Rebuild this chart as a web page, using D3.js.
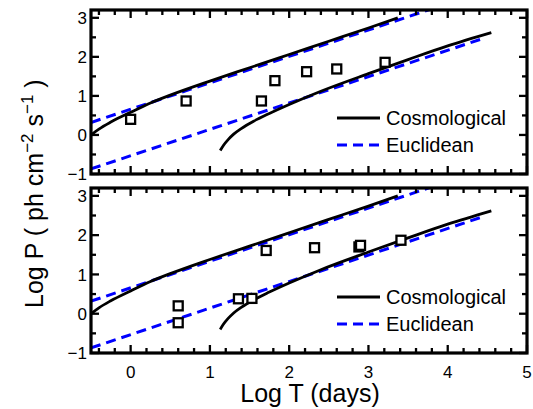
<!DOCTYPE html>
<html lang="en">
<head>
    <meta charset="UTF-8">
    <title>Log P vs Log T</title>
    <script src="https://d3js.org/d3.v7.min.js"></script>
    <style>
        body { margin: 0; background: #fff; overflow: hidden; }
        svg { display: block; }
        text { font-family: "Liberation Sans", Arial, sans-serif; fill: #000; }
        .tick_label { font-size: 17px; }
        .legend_text { font-size: 20px; }
        .axis_label { font-size: 25px; }
    </style>
</head>
<body>
<svg width="533" height="409"></svg>

<script>
    // model curves
    const cosmoUpperT = [-0.5, -0.4, -0.25, 0, 0.25, 0.5, 1, 1.5, 2, 2.5, 3, 3.37];
    const cosmoUpperP = [0, 0.15, 0.33, 0.58, 0.82, 1.02, 1.38, 1.72, 2.06, 2.4, 2.74, 3.0];
    const cosmoLowerT = [1.13, 1.17, 1.23, 1.3, 1.4, 1.55, 1.75, 2.0, 2.4, 3.0, 3.5, 4.0, 4.55];
    const cosmoLowerP = [-0.40, -0.27, -0.12, 0.02, 0.17, 0.35, 0.55, 0.78, 1.12, 1.57, 1.93, 2.28, 2.62];
    const euclidUpperT = [-0.5, 3.8];
    const euclidUpperP = [0.32, 3.23];
    const euclidLowerT = [-0.5, 4.46];
    const euclidLowerP = [-0.87, 2.48];

    // observed points
    const topT = [0, 0.70, 1.65, 1.82, 2.22, 2.6, 3.21];
    const topP = [0.40, 0.87, 0.87, 1.39, 1.62, 1.69, 1.86];
    const bottomT = [0.6, 0.6, 1.36, 1.53, 1.71, 2.32, 2.88, 2.9, 3.41];
    const bottomP = [0.20, -0.23, 0.38, 0.39, 1.61, 1.68, 1.70, 1.74, 1.87];

    const xTicks = [0, 1, 2, 3, 4, 5];
    const xMinorTicks = [-0.4, -0.2, 0.2, 0.4, 0.6, 0.8, 1.2, 1.4, 1.6, 1.8, 2.2, 2.4, 2.6, 2.8,
        3.2, 3.4, 3.6, 3.8, 4.2, 4.4, 4.6, 4.8];
    const yTicks = [-1, 0, 1, 2, 3];
    const yMinorTicks = [-0.5, 0.5, 1.5, 2.5];
    const legendNames = ["Cosmological", "Euclidean"];

    const svg = d3.select("svg");
    const left = 91, right = 527;

    const x = d3.scaleLinear().domain([-0.5, 5]).range([left, right]);

    const zip = (a, b) => a.map((v, i) => [v, b[i]]);

    function panel(top, bottom, ptsT, ptsP, showX, id)
    {
        const y = d3.scaleLinear().domain([-1, 3.2]).range([bottom, top]);
        const g = svg.append("g");

        g.append("clipPath").attr("id", id)
            .append("rect")
            .attr("x", left).attr("y", top)
            .attr("width", right - left).attr("height", bottom - top);

        const line = d3.line()
            .x(d => x(d[0]))
            .y(d => y(d[1]))
            .curve(d3.curveMonotoneX);

        const curves = g.append("g").attr("clip-path", `url(#${id})`);

        [[euclidUpperT, euclidUpperP], [euclidLowerT, euclidLowerP]].forEach(function (c) {
            curves.append("path")
                .attr("d", line(zip(c[0], c[1])))
                .attr("fill", "none")
                .attr("stroke", "#0000ff")
                .attr("stroke-width", 3)
                .attr("stroke-dasharray", "10,6");
        });
        [[cosmoUpperT, cosmoUpperP], [cosmoLowerT, cosmoLowerP]].forEach(function (c) {
            curves.append("path")
                .attr("d", line(zip(c[0], c[1])))
                .attr("fill", "none")
                .attr("stroke", "#000")
                .attr("stroke-width", 2.8);
        });

        g.append("g").selectAll("rect")
            .data(zip(ptsT, ptsP))
            .enter()
            .append("rect")
            .attr("x", d => x(d[0]) - 4.5)
            .attr("y", d => y(d[1]) - 4.5)
            .attr("width", 9).attr("height", 9)
            .attr("fill", "#fff")
            .attr("stroke", "#000")
            .attr("stroke-width", 2.3);

        // ticks on all four sides, pointing inwards
        const tk = g.append("g").attr("stroke", "#000").attr("stroke-width", 2.3);
        [[xTicks, 8], [xMinorTicks, 5]].forEach(function (t) {
            t[0].forEach(function (v) {
                tk.append("line").attr("x1", x(v)).attr("x2", x(v))
                    .attr("y1", bottom).attr("y2", bottom - t[1]);
                tk.append("line").attr("x1", x(v)).attr("x2", x(v))
                    .attr("y1", top).attr("y2", top + t[1]);
            });
        });
        [[yTicks, 8], [yMinorTicks, 5]].forEach(function (t) {
            t[0].forEach(function (v) {
                tk.append("line").attr("y1", y(v)).attr("y2", y(v))
                    .attr("x1", left).attr("x2", left + t[1]);
                tk.append("line").attr("y1", y(v)).attr("y2", y(v))
                    .attr("x1", right).attr("x2", right - t[1]);
            });
        });

        g.append("g").selectAll("text")
            .data(yTicks)
            .enter()
            .append("text")
            .attr("class", "tick_label")
            .attr("x", left - 4)
            .attr("y", d => y(d))
            .attr("dy", "0.36em")
            .attr("text-anchor", "end")
            .text(d3.format("d"));

        if (showX) {
            g.append("g").selectAll("text")
                .data(xTicks)
                .enter()
                .append("text")
                .attr("class", "tick_label")
                .attr("x", d => x(d))
                .attr("y", bottom + 25)
                .attr("text-anchor", "middle")
                .text(d3.format("d"));
        }

        g.append("rect")
            .attr("x", left).attr("y", top)
            .attr("width", right - left).attr("height", bottom - top)
            .attr("fill", "none")
            .attr("stroke", "#000")
            .attr("stroke-width", 3.2);

        // legend
        const lg = g.append("g");
        legendNames.forEach(function (name, i) {
            const ly = bottom - 56 + i * 27;
            lg.append("line")
                .attr("x1", 337).attr("x2", 380)
                .attr("y1", ly).attr("y2", ly)
                .attr("stroke", i === 0 ? "#000" : "#0000ff")
                .attr("stroke-width", i === 0 ? 2.8 : 3)
                .attr("stroke-dasharray", i === 0 ? null : "10,6");
            lg.append("text")
                .attr("class", "legend_text")
                .attr("x", 386).attr("y", ly + 7)
                .text(name);
        });
    }

    panel(10, 174, topT, topP, false, "clipTop");
    panel(188, 353, bottomT, bottomP, true, "clipBottom");

    svg.append("text")
        .attr("class", "axis_label")
        .attr("x", 310).attr("y", 402)
        .attr("text-anchor", "middle")
        .text("Log T (days)");

    const yLab = svg.append("text")
        .attr("class", "axis_label")
        .attr("transform", "rotate(-90)")
        .attr("x", -308).attr("y", 43);
    yLab.append("tspan").text("Log P ( ph cm");
    yLab.append("tspan").attr("dy", -10).attr("font-size", 17).text("−2");
    yLab.append("tspan").attr("dy", 10).text(" s");
    yLab.append("tspan").attr("dy", -10).attr("font-size", 17).text("−1");
    yLab.append("tspan").attr("dy", 10).text(" )");
</script>
</body>
</html>
